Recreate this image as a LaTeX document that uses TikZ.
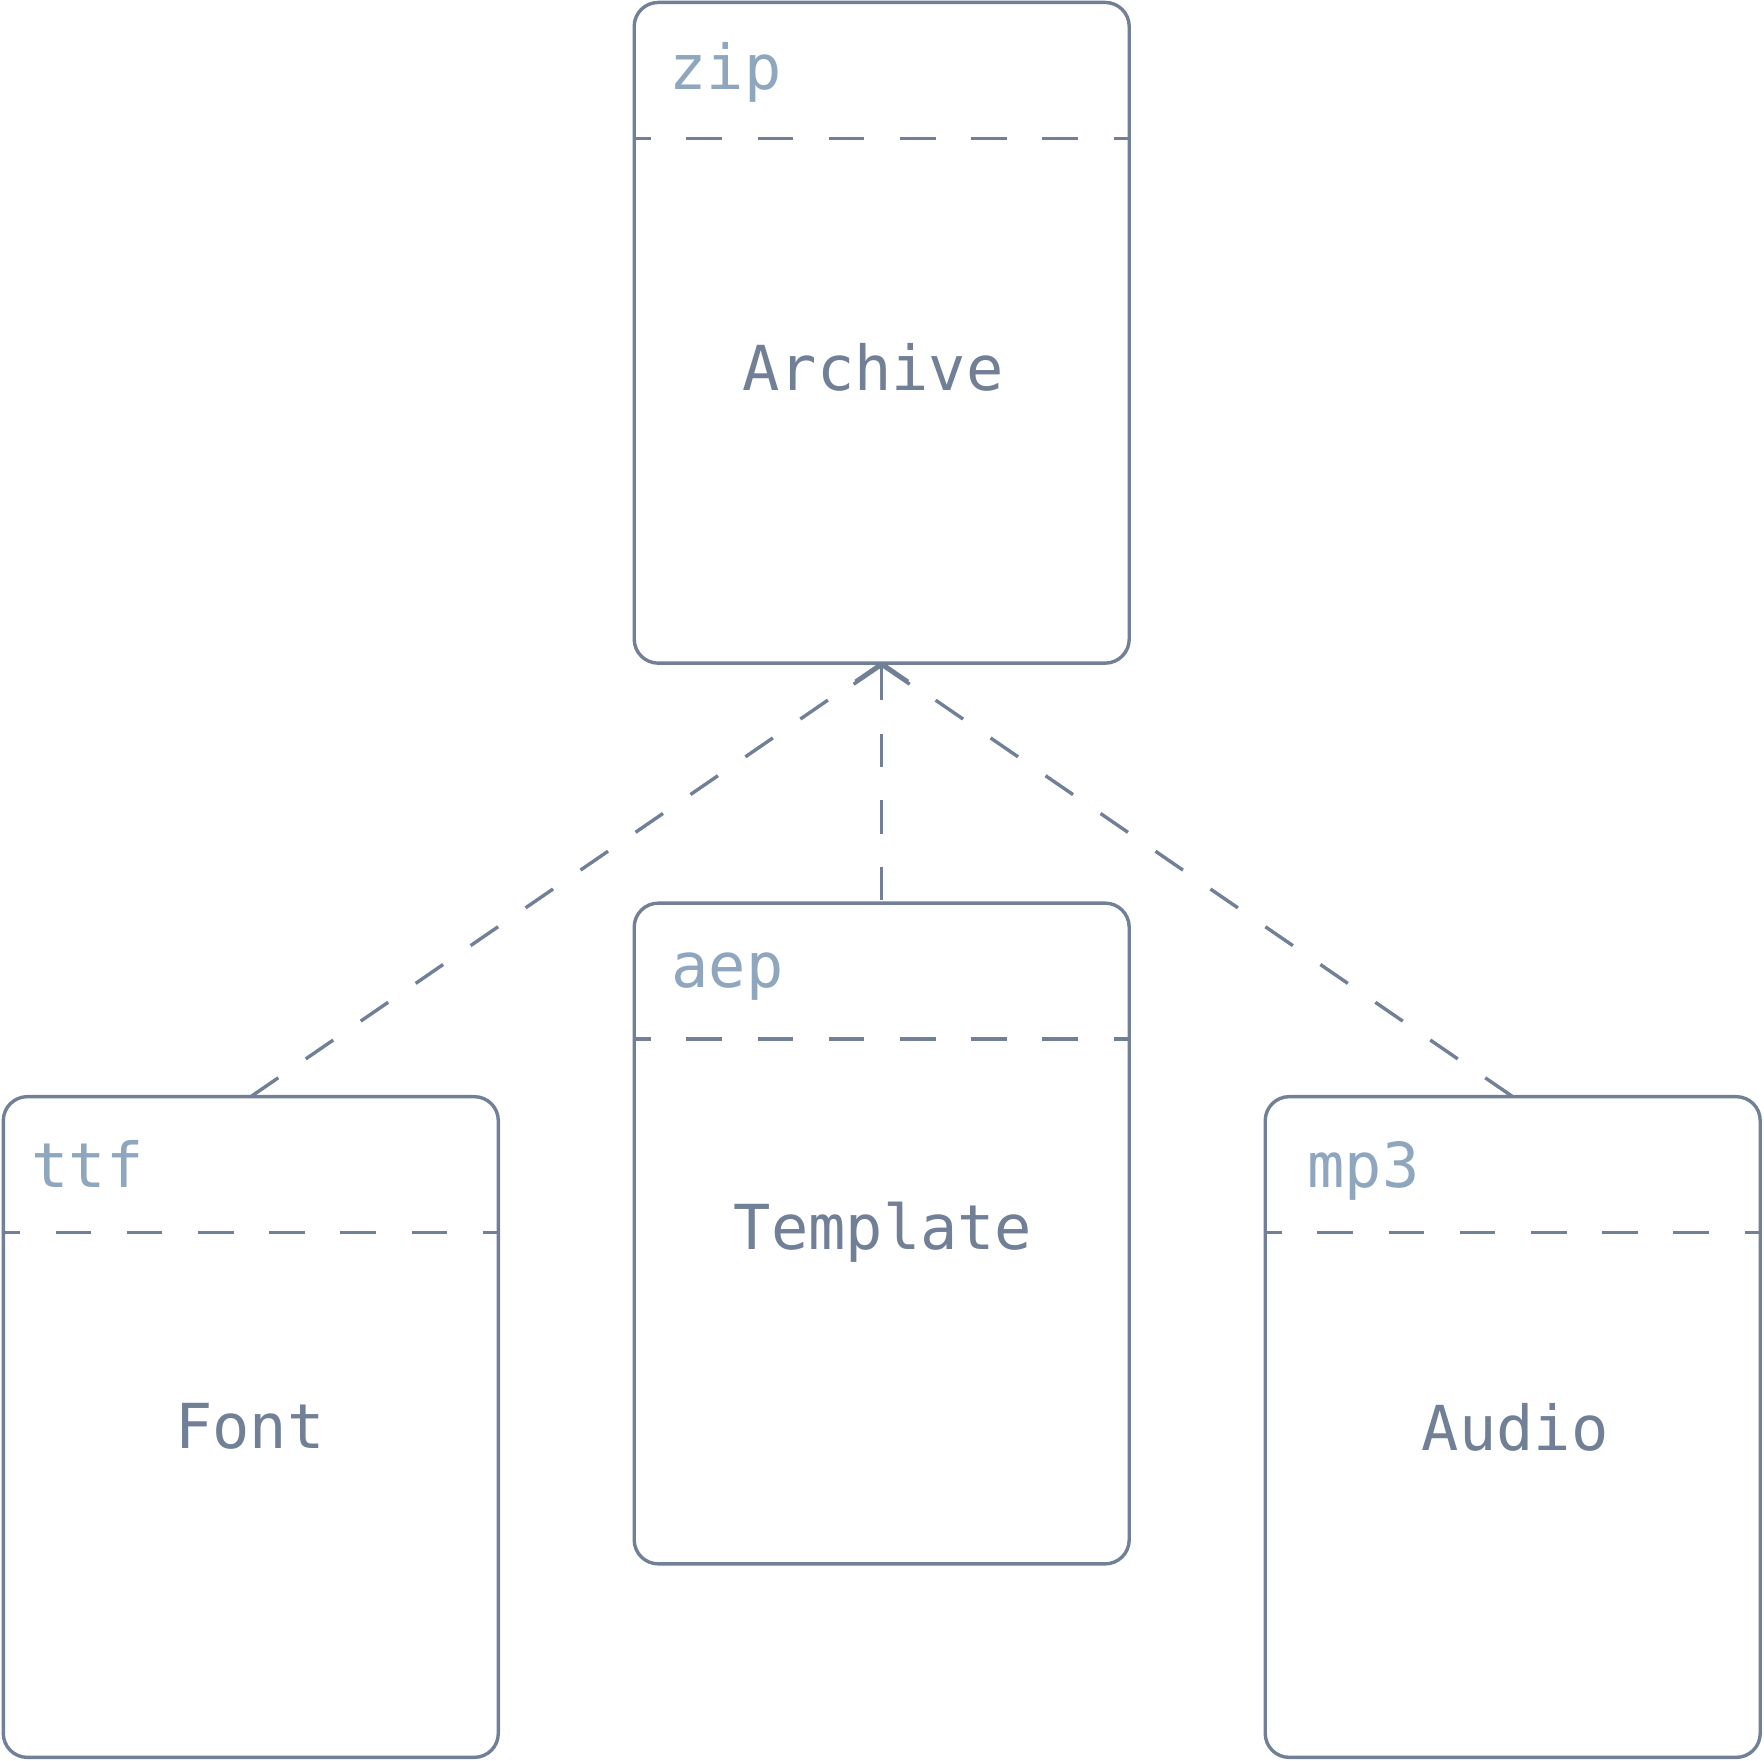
\documentclass[tikz,border=0pt]{standalone}
\usepackage{fontspec}
\setmonofont{DejaVu Sans Mono}
\usetikzlibrary{arrows.meta}
\definecolor{edge}{HTML}{718096}
\definecolor{hdr}{HTML}{8FA6BF}
\begin{document}
\begin{tikzpicture}[x=0.5pt,y=-0.5pt,
  box/.style={draw=edge, line width=1.7pt, rounded corners=12pt,
    minimum width=247.5pt, minimum height=330.35pt, inner sep=0pt, outer sep=0pt},
  hdrline/.style={draw=edge, line width=1.7pt, dash pattern=on 17.8pt off 17.8pt, dash phase=9.5pt},
  conn/.style={draw=edge, line width=1.7pt, dash pattern=on 16.67pt off 16.67pt},
  maintext/.style={font=\ttfamily\fontsize{31}{37}\selectfont, text=edge, inner sep=0pt},
  hdrtext/.style={font=\ttfamily\fontsize{31}{37}\selectfont, text=hdr, inner sep=0pt, anchor=base west}]
\useasboundingbox (0,0) rectangle (1764,1760);

\node[box] (archive) at (881.7,332.8) {};
\node[box] (template) at (881.7,1233.5) {};
\node[box] (font) at (250.8,1427) {};
\node[box] (audio) at (1512.7,1427) {};

\foreach \b in {archive,template,font,audio}{
  \draw[hdrline] ([yshift=-68pt]\b.north west) -- ([yshift=-68pt]\b.north east);
}

\node[hdrtext] (zipl) at (669,90) {zip};
\node[hdrtext] (aepl) at (671,987) {aep};
\node[hdrtext] (ttfl) at (31,1187) {ttf};
\node[hdrtext] (mp3l) at (1307,1187) {mp3};

\node[maintext, anchor=base] (archivel) at (873,390.5) {Archive};
\node[maintext, anchor=base] (templatel) at (883,1249) {Template};
\node[maintext, anchor=base] (fontl) at (250,1448) {Font};
\node[maintext, anchor=base] (audiol) at (1515,1450) {Audio};

\draw[conn] (font.north) -- (archive.south);
\draw[conn] (audio.north) -- (archive.south);
\draw[conn, {Straight Barb[length=9.5pt,width=28pt]}-] (archive.south) -- (template.north);
\end{tikzpicture}
\end{document}
